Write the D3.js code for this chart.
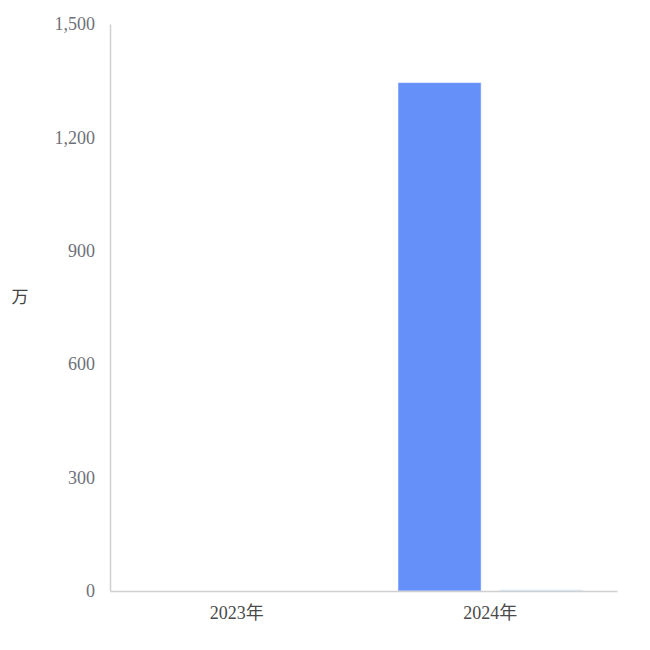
<!DOCTYPE html>
<html><head><meta charset="utf-8">
<script src="https://cdn.jsdelivr.net/npm/d3@7"></script>
<style>body{margin:0;background:#fff}</style>
</head><body>
<svg id="c" width="650" height="650"></svg>
<script>
const categories = ["2023年", "2024年"];
const seriesA = [0, 1345];
const seriesB = [0, 4];
const yTicks = [0, 300, 600, 900, 1200, 1500];
const yLabel = "万";

const svg = d3.select("#c");
const m = {l: 110, r: 33, t: 24, b: 59};
const W = 650, H = 650;
const x0 = d3.scaleBand().domain(categories).range([m.l, W - m.r]);
const bw = x0.bandwidth();
const x1 = d3.scaleBand().domain([0, 1]).range([bw * 0.136, bw * 0.864]).paddingInner(0.18);
const y = d3.scaleLinear().domain([0, 1500]).range([H - m.b, m.t]);
const font = "'Liberation Serif','Noto Sans CJK SC',serif";
const colors = ["#6690f9", "#d3e8f8"];

const data = categories.map((c, i) => ({c, vals: [seriesA[i], seriesB[i]]}));
const g = svg.append("g");
g.selectAll("g.grp").data(data).join("g").attr("class", "grp")
  .attr("transform", d => `translate(${x0(d.c)},0)`)
  .selectAll("rect").data(d => d.vals.map((v, k) => ({v, k}))).join("rect")
  .attr("x", d => x1(d.k)).attr("width", x1.bandwidth())
  .attr("y", d => y(d.v)).attr("height", d => y(0) - y(d.v))
  .attr("fill", d => colors[d.k])
  .attr("stroke", "rgba(255,255,255,0.5)").attr("stroke-width", 1);

const ya = svg.append("g").attr("transform", `translate(${m.l},0)`)
  .call(d3.axisLeft(y).tickValues(yTicks).tickSize(0).tickPadding(15).tickFormat(d3.format(",")));
ya.select(".domain").attr("stroke", "#d0d0d0").attr("stroke-width", 1.5);
ya.selectAll("text").attr("font-family", font).attr("font-size", 18).attr("fill", "#6e7079");

const xa = svg.append("g").attr("transform", `translate(0,${H - m.b})`)
  .call(d3.axisBottom(x0).tickSize(0).tickPadding(15));
xa.select(".domain").attr("stroke", "#d0d0d0").attr("stroke-width", 1.5);
xa.selectAll("text").attr("font-family", font).attr("font-size", 18).attr("fill", "#4a4a4a");

svg.append("text").attr("x", 20).attr("y", 298).attr("text-anchor", "middle")
  .attr("dominant-baseline", "middle")
  .attr("font-family", "'Noto Sans CJK SC',sans-serif").attr("font-size", 17).attr("fill", "#444")
  .text(yLabel);
</script>
</body></html>
